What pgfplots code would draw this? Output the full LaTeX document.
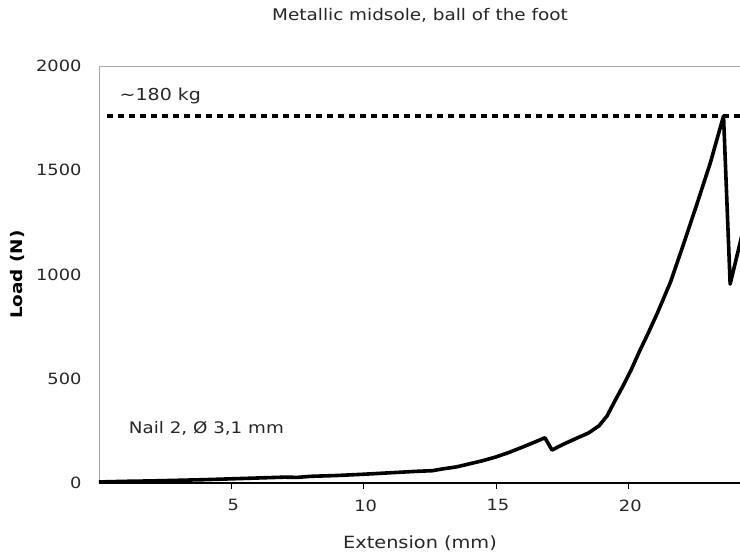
\documentclass[border=0pt]{standalone}
\usepackage{fontspec}
\setmainfont[FakeStretch=1.15]{DejaVu Sans}
\usepackage{pgfplots}
\pgfplotsset{compat=1.18}

\begin{document}
\begin{tikzpicture}
\begin{axis}[
    scale only axis,
    width=642pt,
    height=417pt,
    xmin=0, xmax=24.26,
    ymin=0, ymax=2000,
    axis x line*=bottom,
    axis y line*=left,
    x axis line style={black, line width=1.2pt, -},
    y axis line style={gray!70, line width=0.8pt, -},
    xtick={5,10,15,20},
    ytick={0,500,1000,1500,2000},
    tick align=outside,
    major tick length=6pt,
    xtick style={black, line width=0.8pt},
    ytick style={draw=none},
    /pgf/number format/assume math mode=true,
    /pgf/number format/1000 sep={},
    tick label style={font=\fontsize{15.5}{18}\selectfont, text=black!85},
    xticklabel style={yshift=-7pt, xshift=2pt},
    yticklabel style={xshift=-8pt},
    title={Metallic midsole, ball of the foot},
    title style={at={(axis description cs:0.5,1.108)}, anchor=center, font=\fontsize{16}{19}\selectfont, text=black!85},
    xlabel={Extension (mm)},
    xlabel style={at={(axis description cs:0.5,-0.1439)}, anchor=center, font=\fontsize{16.8}{20}\selectfont, text=black!85},
    ylabel={Load (N)},
    ylabel style={at={(axis description cs:-0.1262,0.5)}, anchor=center, rotate=0, font=\fontsize{16}{19}\selectfont\bfseries},
    clip=true,
]
\draw[gray!70, line width=0.8pt] (rel axis cs:0,1) -- (rel axis cs:1,1);

\addplot[black, line width=3.3pt, line cap=butt, dash pattern=on 6.5pt off 4.5pt]
  coordinates {(0.3,1760) (24.5,1760)};

\addplot[black, line width=3.6pt, line join=round, line cap=round] coordinates {
  (0,5) (1,8) (2,10) (3,13) (4,16) (5,20) (6,24) (7,28) (7.5,27) (8,32)
  (9,36) (10,42) (11,49) (12,56) (12.6,59) (13,68) (13.5,77) (14,92)
  (14.5,107) (15,125) (15.5,147) (16,172) (16.5,198) (16.85,217)
  (17.12,158) (17.5,183) (18,212) (18.5,240) (18.9,275) (19.2,322)
  (19.5,395) (19.8,465) (20.1,540) (20.4,625) (20.75,718) (21.1,815)
  (21.6,965) (22.1,1150) (22.6,1340) (23.1,1535) (23.6,1760)
  (23.85,954) (24.26,1170) (24.5,1290)
};

\node[anchor=west, font=\fontsize{16.5}{19}\selectfont, text=black!85] at (axis cs:0.65,1856) {\textasciitilde180 kg};
\node[anchor=west, font=\fontsize{15.9}{19}\selectfont, text=black!85] at (axis cs:1.0,264) {Nail 2, Ø 3,1 mm};
\end{axis}
\pgfresetboundingbox
\path[use as bounding box] (-99pt,-74pt) rectangle (641pt,483pt);
\end{tikzpicture}
\end{document}
